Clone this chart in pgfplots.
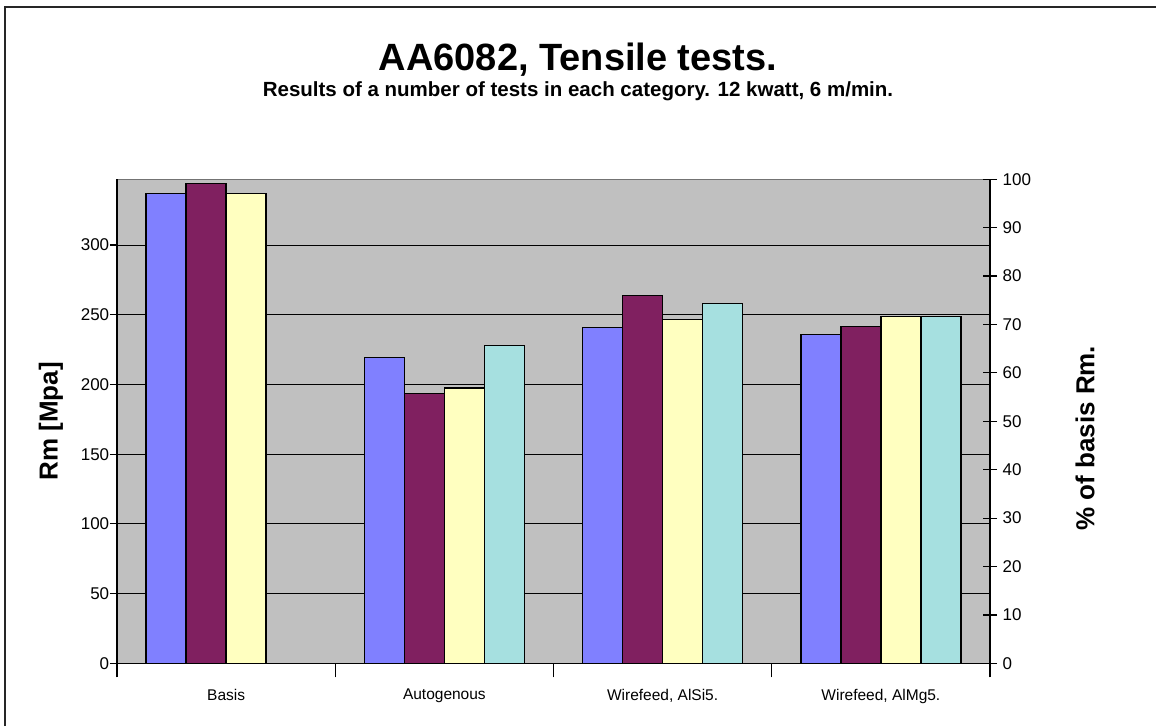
\documentclass[border=0pt]{standalone}
\usepackage{pgfplots}
\pgfplotsset{compat=1.18}
\usepackage{fontspec}
\setmainfont{Liberation Sans}
\definecolor{xlblue}{HTML}{8080FF}
\definecolor{xlpurple}{HTML}{802060}
\definecolor{xlyellow}{HTML}{FFFFC0}
\definecolor{xlcyan}{HTML}{A6E0E0}
\definecolor{xlgray}{HTML}{C0C0C0}
\begin{document}
\begin{tikzpicture}[x=1pt,y=1pt]
\useasboundingbox (0,0) rectangle (1156,726);
\fill[white] (0,0) rectangle (1156,726);
\draw[line width=2pt, black!85] (5,0) -- (5,719) -- (1156,719);
\node[font=\bfseries\fontsize{38}{42}\selectfont] at (578,666) {AA6082, Tensile tests.};
\node[font=\bfseries\fontsize{20.5}{24}\selectfont] at (578,635) {Results of a number of tests in each category. 12 kwatt, 6 m/min.};
\begin{axis}[
  at={(117pt,62.7pt)}, anchor=south west,
  scale only axis, width=873pt, height=484pt,
  xmin=-0.5, xmax=3.5, ymin=0, ymax=347.2,
  axis background/.style={fill=xlgray, draw=black!55, line width=1pt},
  axis x line*=bottom, axis y line*=left,
  axis line style={line width=1.3pt, black, -},
  ybar=0pt, bar width=40pt,
  xtick={-0.5,0.5,1.5,2.5,3.5},
  x tick label as interval,
  xticklabels={Basis,Autogenous,{Wirefeed, AlSi5.},{Wirefeed, AlMg5.}},
  xtick style={line width=1.2pt, black},
  x tick style={/pgfplots/major tick length=14pt},
  xticklabel style={font=\fontsize{15.5}{18}\selectfont, yshift=-18pt},
  ytick={0,50,...,300},
  y tick style={/pgfplots/major tick length=7pt, line width=1.2pt, black},
  tick align=outside,
  yticklabel style={font=\fontsize{17}{20}\selectfont},
  /pgf/number format/assume math mode=true,
  ymajorgrids, grid style={black, line width=1.1pt},
  ylabel={Rm [Mpa]},
  every axis y label/.style={at={(axis description cs:-0.0756,0.5)}, rotate=90, anchor=center, font=\bfseries\fontsize{26}{30}\selectfont},
  every axis plot/.append style={draw=black, line width=1.3pt},
]
\addplot[fill=xlblue] coordinates {(0,337.2) (1,219.2) (2,240.7) (3,236.0)};
\addplot[fill=xlpurple] coordinates {(0,344.0) (1,193.4) (2,264.0) (3,241.7)};
\addplot[fill=xlyellow] coordinates {(0,337.2) (1,197.5) (2,246.5) (3,248.9)};
\addplot[fill=xlcyan] coordinates {(1,227.8) (2,258.2) (3,248.9)};
\end{axis}
\begin{axis}[
  at={(117pt,62.7pt)}, anchor=south west,
  scale only axis, width=873pt, height=484pt,
  xmin=-0.5, xmax=3.5, ymin=0, ymax=100,
  axis x line=none, axis y line*=right,
  axis line style={line width=1.3pt, black, -},
  ytick={0,10,...,100},
  tick align=center,
  y tick style={/pgfplots/major tick length=14pt, line width=1.2pt, black},
  yticklabel style={font=\fontsize{17}{20}\selectfont, xshift=7pt},
  /pgf/number format/assume math mode=true,
  ylabel={\% of basis Rm.},
  every axis y label/.style={at={(axis description cs:1.1088,0.465)}, rotate=90, anchor=center, font=\bfseries\fontsize{26}{30}\selectfont},
]
\addplot[draw=none] coordinates {(0,0)};
\end{axis}
\end{tikzpicture}
\end{document}
